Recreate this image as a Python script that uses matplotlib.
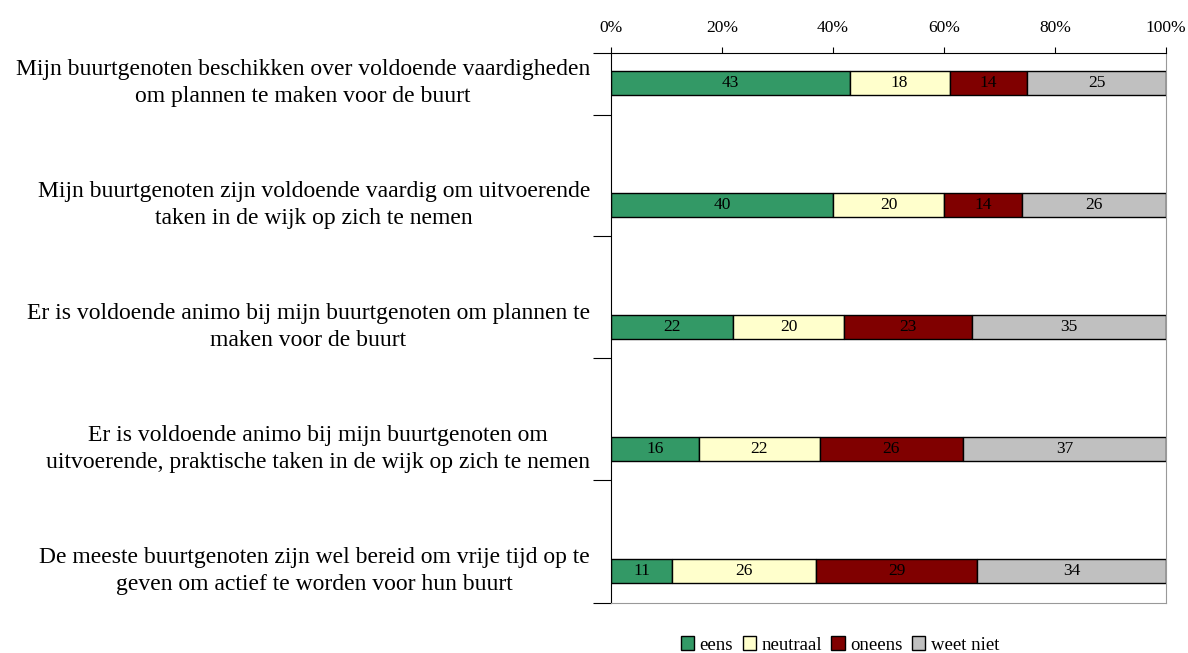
import numpy as np
import matplotlib.pyplot as plt
from matplotlib.patches import Patch

plt.rcParams['font.family'] = ['Liberation Serif', 'DejaVu Serif']

statements = [
    "Mijn buurtgenoten beschikken over voldoende vaardigheden\nom plannen te maken voor de buurt",
    "Mijn buurtgenoten zijn voldoende vaardig om uitvoerende\ntaken in de wijk op zich te nemen",
    "Er is voldoende animo bij mijn buurtgenoten om plannen te\nmaken voor de buurt",
    "Er is voldoende animo bij mijn buurtgenoten om\nuitvoerende, praktische taken in de wijk op zich te nemen",
    "De meeste buurtgenoten zijn wel bereid om vrije tijd op te\ngeven om actief te worden voor hun buurt",
]
answers = ["eens", "neutraal", "oneens", "weet niet"]
eens = [43, 40, 22, 16, 11]
neutraal = [18, 20, 20, 22, 26]
oneens = [14, 14, 23, 26, 29]
weet_niet = [25, 26, 35, 37, 34]
colors = ["#339966", "#FFFFCC", "#800000", "#C0C0C0"]

series = np.array([eens, neutraal, oneens, weet_niet], dtype=float)
shares = series / series.sum(axis=0) * 100  # 100% stacked, like the original

fig = plt.figure(figsize=(11.88, 6.53), dpi=100)
ax = fig.add_axes([0.5143, 0.0766, 0.4672, 0.8423])

y = np.arange(len(statements))
left = np.zeros(len(statements))
for vals, labels, col, name in zip(shares, series, colors, answers):
    ax.barh(y, vals, left=left, height=0.2, color=col, edgecolor="black",
            linewidth=1, label=name)
    for yi, l, v, lab in zip(y, left, vals, labels):
        ax.text(l + v / 2, yi, f"{lab:.0f}", ha="center", va="center", fontsize=12.5)
    left += vals

ax.set_xlim(0, 100)
ax.set_ylim(4.26, -0.246)
ax.xaxis.tick_top()
ax.set_xticks(np.arange(0, 101, 20))
ax.set_xticklabels([f"{t}%" for t in range(0, 101, 20)], fontsize=12.5)
ax.tick_params(axis="x", direction="out", length=4, pad=8)

ax.set_yticks([-0.246, 0.265, 1.257, 2.25, 3.25, 4.26])
ax.set_yticklabels([])
ax.tick_params(axis="y", direction="out", length=13)

for yi, s in zip(y, statements):
    ax.text(-0.038, yi, s, ha="right", va="center", multialignment="center",
            fontsize=17, linespacing=1.4, transform=ax.get_yaxis_transform())

ax.spines["right"].set_color("#999999")
ax.spines["bottom"].set_color("#999999")

handles = [Patch(facecolor=c, edgecolor="black", label=a) for c, a in zip(colors, answers)]
fig.legend(handles=handles, loc="center", bbox_to_anchor=(840 / 1188, 1 - 645 / 653),
           ncol=4, frameon=False, fontsize=13.5, handlelength=0.7, handleheight=0.7,
           handletextpad=0.3, columnspacing=0.5)

fig.savefig("out.png", dpi=100)
